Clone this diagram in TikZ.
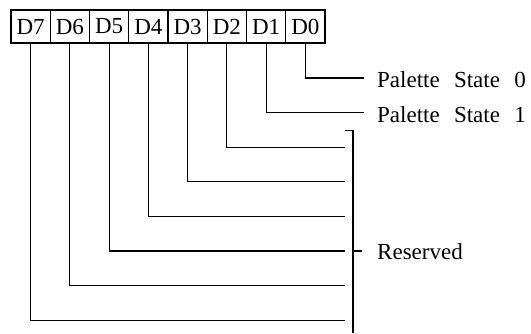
\documentclass[tikz,border=0pt]{standalone}
\usepackage{fontspec}
\setmainfont{Liberation Serif}
\begin{document}
\begin{tikzpicture}[x=1pt,y=-1pt,
  font=\fontsize{23}{27}\selectfont,
  bitbox/.style={draw, line width=1.1pt, minimum width=39.25pt, minimum height=33pt, inner sep=0pt, outer sep=0pt},
  wire/.style={line width=1.1pt},
  lbl/.style={anchor=base west, inner sep=0pt}]
\useasboundingbox (0,0) rectangle (531,333);
% register bits
\foreach \i/\n in {0/7,1/6,2/5,3/4,4/3,5/2,6/1,7/0} {
  \node[bitbox] (b\n) at ({11+39.25*(\i+0.5)},26.5) {D\n};
}
% end points
\coordinate (e0) at (364,78);
\coordinate (e1) at (364,112.6);
\coordinate (e2) at (345,147.2);
\coordinate (e3) at (345,181.8);
\coordinate (e4) at (345,216.4);
\coordinate (e5) at (345,251);
\coordinate (e6) at (345,285.6);
\coordinate (e7) at (345,320.2);
\foreach \n in {0,...,7} { \draw[wire] (b\n.south) |- (e\n); }
% bracket
\coordinate (bt0) at (345,130.7);
\coordinate (bt) at (353,130.7);
\coordinate (bb) at (353,333);
\coordinate (bm) at (353,251);
\coordinate (bmr) at (362,251);
\draw[wire] (bt0) -- (bt) -- (bb);
\draw[wire] (bm) -- (bmr);
% labels
\node[lbl] (l0) at (377,87.5) {Palette\hspace{0.62em}State\hspace{0.62em}0};
\node[lbl] (l1) at (377,122) {Palette\hspace{0.62em}State\hspace{0.62em}1};
\node[lbl] (lr) at (377,259.5) {Reserved};
\end{tikzpicture}
\end{document}
